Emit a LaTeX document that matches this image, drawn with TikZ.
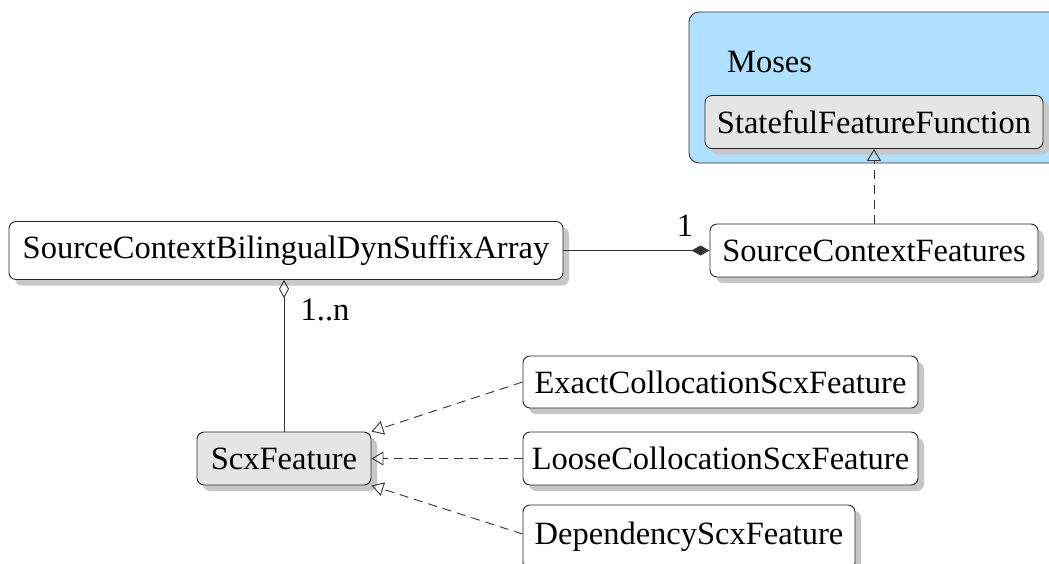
\documentclass[tikz,border=0pt]{standalone}
\usepackage{fontspec}
\setmainfont{Liberation Serif}
\usetikzlibrary{arrows.meta,shadows,positioning}
\definecolor{pkgblue}{RGB}{176,224,255}
\definecolor{clsgray}{RGB}{229,229,229}
\tikzset{
  cls/.style={draw=black!85, fill=white, rounded corners=7pt, line width=0.9pt,
    minimum height=53pt, inner sep=0pt,
    font=\fontsize{32.5}{37}\selectfont,
    drop shadow={shadow xshift=6pt, shadow yshift=-6pt, fill=black!22, opacity=1}},
  grayc/.style={cls, fill=clsgray},
  conn/.style={draw=black!80, line width=0.9pt},
  realize/.style={conn, dashed, dash pattern=on 9pt off 6pt, -{Triangle[open, length=12pt, width=14pt]}},
  lbl/.style={font=\fontsize{32.5}{37}\selectfont, inner sep=0pt}
}
\begin{document}
\begin{tikzpicture}[x=1pt,y=-1pt]
\useasboundingbox (0,0) rectangle (1049,563);
\path[clip] (0,0) rectangle (1049,563);
% package
\draw[draw=black!80, fill=pkgblue, line width=0.9pt, rounded corners=10pt] (689,12) rectangle (1075,163);
\node[lbl, anchor=west] (moses) at (727,62) {Moses};
% classes
\node[grayc, minimum width=338pt] (sff) at (874,122) {StatefulFeatureFunction};
\node[cls, minimum width=328pt] (scf) at (874,250.5) {SourceContextFeatures};
\node[cls, minimum width=554pt, minimum height=58pt] (sa) at (286,250.5) {SourceContextBilingualDynSuffixArray};
\node[grayc, minimum width=174pt] (scx) at (284,458.5) {ScxFeature};
\node[cls, minimum width=395pt, minimum height=52pt] (exact) at (720.5,382) {ExactCollocationScxFeature};
\node[cls, minimum width=395pt] (loose) at (720.5,458.5) {LooseCollocationScxFeature};
\node[cls, minimum width=332pt, minimum height=64pt] (dep) at (689,537) {DependencyScxFeature};
% connectors
\draw[conn, -{Diamond[length=18pt, width=10pt]}] (sa.east) -- (scf.west);
\node[lbl] (one) at (685,226) {1};
\draw[conn, {Diamond[open, length=18pt, width=10pt]}-] (sa.south -| scx.north) -- (scx.north);
\node[lbl] (onen) at (325,310) {1..n};
\draw[realize] (scf.north) -- (sff.south);
\draw[realize] (exact.west) -- (scx.north east);
\draw[realize] (loose.west) -- (scx.east);
\draw[realize] (dep.west |- 0,534) -- (scx.south east);
\end{tikzpicture}
\end{document}
